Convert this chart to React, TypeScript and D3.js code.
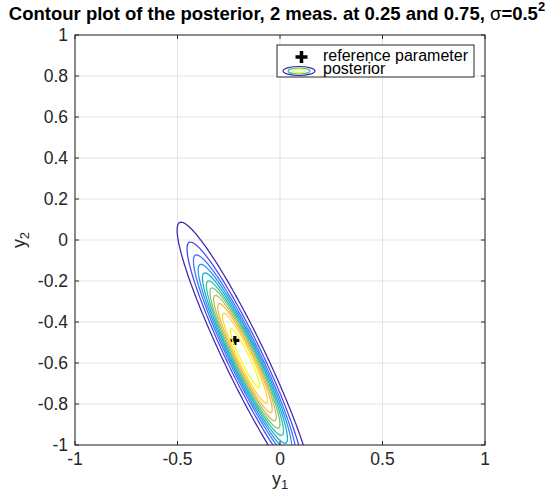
import React from "react";
import * as d3 from "d3";

// ---- data ----
const xTicks = [-1, -0.5, 0, 0.5, 1];
const yTicks = [-1, -0.8, -0.6, -0.4, -0.2, 0, 0.2, 0.4, 0.6, 0.8, 1];
const posteriorMean = [-0.171, -0.576];
// covariance of the (Gaussian) posterior [[var y1, cov],[cov, var y2]]
const posteriorCov = [
  [0.02480, -0.04681],
  [-0.04681, 0.0996],
];
// contour levels as fraction of the peak density
const contourLevels = [0.11, 0.2, 0.28, 0.35, 0.42, 0.49, 0.555, 0.625, 0.7, 0.785, 0.9];
const referenceParam = [-0.22, -0.49];
const parulaStops = [
  "#3e26a8", "#4747eb", "#3e6ffe", "#2793ec", "#08b2d1", "#2fbea0",
  "#7dc37b", "#c0bb58", "#f6b93f", "#f8d92a", "#f9fb0e",
];

const W = 553, H = 494;
const L = 75, R = 485, T = 35, B = 445;

export default function App() {
  const sx = d3.scaleLinear().domain([-1, 1]).range([L, R]);
  const sy = d3.scaleLinear().domain([-1, 1]).range([B, T]);

  // density field on an extended grid (clipped later)
  const step = 0.006;
  const x0 = -1.3, x1 = 1.3, y0 = -1.9, y1 = 1.3;
  const nx = Math.round((x1 - x0) / step) + 1;
  const ny = Math.round((y1 - y0) / step) + 1;
  const [[a, b], [, c]] = posteriorCov;
  const det = a * c - b * b;
  const ia = c / det, ib = -b / det, ic = a / det;
  const values = new Float64Array(nx * ny);
  for (let j = 0; j < ny; j++) {
    const dy = y0 + j * step - posteriorMean[1];
    for (let i = 0; i < nx; i++) {
      const dx = x0 + i * step - posteriorMean[0];
      values[j * nx + i] = Math.exp(-0.5 * (ia * dx * dx + 2 * ib * dx * dy + ic * dy * dy));
    }
  }
  const contours = d3.contours().size([nx, ny]).thresholds(contourLevels)(values as any);
  const proj = d3.geoTransform({
    point(px: number, py: number) {
      (this as any).stream.point(sx(x0 + (px - 0.5) * step), sy(y0 + (py - 0.5) * step));
    },
  });
  const path = d3.geoPath(proj);

  const font = "'Liberation Sans', Arial, Helvetica, sans-serif";
  const axisColor = "#262626";
  const tickLen = 4;
  const rx = sx(referenceParam[0]), ry = sy(referenceParam[1]);

  return (
    <svg width={W} height={H} style={{ position: "absolute", left: 0, top: 0, background: "#fff" }} fontFamily={font}>
      <defs>
        <clipPath id="plotclip">
          <rect x={L} y={T} width={R - L} height={B - T} />
        </clipPath>
      </defs>
      <rect x={0} y={0} width={W} height={H} fill="#fff" />
      {xTicks.map((t) => (
        <line key={"gx" + t} x1={sx(t)} x2={sx(t)} y1={T} y2={B} stroke="#e3e3e3" strokeWidth={1} />
      ))}
      {yTicks.map((t) => (
        <line key={"gy" + t} x1={L} x2={R} y1={sy(t)} y2={sy(t)} stroke="#e3e3e3" strokeWidth={1} />
      ))}
      <g clipPath="url(#plotclip)">
        <path d={`M${rx - 4.5},${ry}h9M${rx},${ry - 4.5}v9`} stroke="#000" strokeWidth={3.2} />
        {contours.map((cg, k) => (
          <path key={k} d={path(cg as any) || ""} fill="none" stroke={parulaStops[k]} strokeWidth={1.25} />
        ))}
      </g>
      <rect x={L} y={T} width={R - L} height={B - T} fill="none" stroke={axisColor} strokeWidth={1} />
      {xTicks.map((t) => (
        <g key={"tx" + t}>
          <line x1={sx(t)} x2={sx(t)} y1={B} y2={B - tickLen} stroke={axisColor} />
          <line x1={sx(t)} x2={sx(t)} y1={T} y2={T + tickLen} stroke={axisColor} />
          <text x={sx(t)} y={B + 20} textAnchor="middle" fontSize={17.5} fill={axisColor}>
            {String(t)}
          </text>
        </g>
      ))}
      {yTicks.map((t) => (
        <g key={"ty" + t}>
          <line x1={L} x2={L + tickLen} y1={sy(t)} y2={sy(t)} stroke={axisColor} />
          <line x1={R} x2={R - tickLen} y1={sy(t)} y2={sy(t)} stroke={axisColor} />
          <text x={L - 7} y={sy(t) + 6} textAnchor="end" fontSize={17.5} fill={axisColor}>
            {String(t)}
          </text>
        </g>
      ))}
      <text x={(L + R) / 2} y={485} textAnchor="middle" fontSize={18} fill={axisColor}>
        y<tspan fontSize={13} dy={4}>1</tspan>
      </text>
      <text transform={`translate(25,${(T + B) / 2}) rotate(-90)`} textAnchor="middle" fontSize={18} fill={axisColor}>
        y<tspan fontSize={13} dy={4}>2</tspan>
      </text>
      <text x={277} y={20} textAnchor="middle" fontSize={18.5} fontWeight="bold" fill="#000">
        Contour plot of the posterior, 2 meas. at 0.25 and 0.75, <tspan fontWeight="normal">σ</tspan>=0.5
        <tspan fontSize={13} dy={-9}>2</tspan>
      </text>
      <g>
        <rect x={277} y={45} width={197} height={32} fill="#fff" stroke={axisColor} strokeWidth={1} />
        <path d="M295.5,57h12M301.5,51v12" stroke="#000" strokeWidth={3.5} />
        <text x={323} y={61} fontSize={16} fill="#000">reference parameter</text>
        <ellipse cx={299} cy={71} rx={16} ry={4.5} fill="none" stroke={parulaStops[0]} strokeWidth={1.2} />
        <ellipse cx={299} cy={71} rx={11} ry={3} fill="none" stroke={parulaStops[5]} strokeWidth={1.2} />
        <ellipse cx={299} cy={71} rx={6} ry={1.6} fill="none" stroke={parulaStops[10]} strokeWidth={1.2} />
        <text x={323} y={74} fontSize={16} fill="#000">posterior</text>
      </g>
    </svg>
  );
}
